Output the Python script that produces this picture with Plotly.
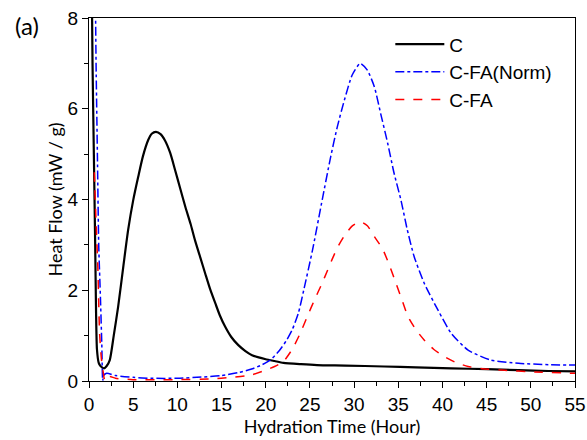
import plotly.graph_objects as go

# C (black)
c_x = [0.3, 0.4, 0.55, 0.7, 0.8, 0.9, 1.1, 1.3, 1.7, 2.0, 2.35, 2.8, 3.3, 3.9, 4.43, 5.0, 5.57, 6.1, 6.7, 7.1, 7.58, 8.1, 8.6, 9.2, 9.74, 10.3, 10.9, 11.5, 12.0, 12.6, 13.15, 13.7, 14.3, 14.8, 15.4, 16.1, 16.9, 17.7, 18.45, 19.2, 20.0, 21.0, 22.0, 24.0, 25.8, 29.0, 33.4, 37.0, 41.0, 45.0, 48.6, 52.0, 55.0]
c_y = [9.0, 7.0, 5.0, 3.0, 1.5, 0.7, 0.4, 0.33, 0.28, 0.33, 0.46, 1.0, 1.64, 2.55, 3.33, 3.98, 4.5, 4.95, 5.31, 5.45, 5.49, 5.44, 5.3, 5.02, 4.65, 4.26, 3.84, 3.46, 3.1, 2.72, 2.37, 2.03, 1.71, 1.45, 1.2, 0.97, 0.79, 0.66, 0.57, 0.52, 0.48, 0.44, 0.40, 0.37, 0.35, 0.34, 0.32, 0.30, 0.28, 0.26, 0.24, 0.22, 0.21]

# C-FA(Norm) (blue)
n_x = [0.7, 0.8, 0.95, 1.1, 1.3, 1.45, 1.55, 1.65, 2.0, 3.0, 5.0, 7.0, 10.0, 13.0, 15.0, 17.0, 18.5, 19.5, 20.5, 21.5, 22.3, 23.0, 23.7, 24.3, 25.3, 26.3, 27.35, 28.1, 28.9, 29.8, 30.7, 31.5, 32.3, 33.0, 33.8, 34.5, 35.3, 36.0, 36.8, 37.95, 39.5, 41.0, 42.9, 45.5, 48.6, 52.0, 55.0]
n_y = [9.0, 7.0, 5.0, 3.0, 1.8, 0.8, 0.0, 0.12, 0.17, 0.12, 0.08, 0.06, 0.06, 0.09, 0.12, 0.19, 0.27, 0.35, 0.46, 0.66, 0.88, 1.13, 1.5, 2.0, 2.89, 3.9, 4.94, 5.6, 6.19, 6.75, 7.0, 6.85, 6.48, 5.9, 5.24, 4.6, 3.99, 3.35, 2.74, 2.15, 1.56, 1.05, 0.68, 0.46, 0.39, 0.36, 0.35]

# C-FA (red)
f_x = [0.6, 0.8, 1.0, 1.2, 1.4, 1.6, 1.8, 2.0, 2.35, 3.0, 5.0, 8.0, 10.0, 14.0, 16.0, 18.3, 20.0, 21.0, 22.0, 23.0, 23.9, 24.7, 25.5, 26.3, 27.0, 27.6, 28.2, 28.9, 29.8, 30.7, 31.5, 32.3, 33.2, 34.0, 34.8, 35.5, 36.1, 37.0, 37.95, 39.0, 40.2, 41.5, 42.9, 44.5, 46.7, 50.4, 55.0]
f_y = [4.6, 3.5, 2.5, 1.05, 0.5, 0.2, 0.0, 0.05, 0.1, 0.06, 0.03, 0.03, 0.03, 0.05, 0.08, 0.13, 0.24, 0.32, 0.43, 0.7, 1.05, 1.42, 1.78, 2.12, 2.44, 2.72, 2.97, 3.2, 3.42, 3.51, 3.42, 3.18, 2.92, 2.55, 2.12, 1.74, 1.42, 1.13, 0.9, 0.7, 0.54, 0.41, 0.32, 0.27, 0.24, 0.2, 0.17]

x_ticks = [0, 5, 10, 15, 20, 25, 30, 35, 40, 45, 50, 55]
y_ticks = [0, 2, 4, 6, 8]

fig = go.Figure()
fig.add_trace(go.Scatter(x=c_x, y=c_y, mode="lines", name="C",
                         line=dict(color="black", width=2.2, shape="spline", smoothing=0.6)))
fig.add_trace(go.Scatter(x=n_x, y=n_y, mode="lines", name="C-FA(Norm)",
                         line=dict(color="#0000ff", width=1.5, dash="dashdot", shape="spline", smoothing=0.6)))
fig.add_trace(go.Scatter(x=f_x, y=f_y, mode="lines", name="C-FA",
                         line=dict(color="#ff0000", width=1.5, dash="dash", shape="spline", smoothing=0.6)))

tickfont = dict(family="Liberation Sans, Arial", size=19, color="black")
titlefont = dict(family="Lato, Open Sans", size=18, color="black")

fig.update_layout(
    width=587, height=440,
    margin=dict(l=89, r=12, t=18, b=59),
    plot_bgcolor="white", paper_bgcolor="white",
    showlegend=True,
    legend=dict(x=0.62, y=0.98, xanchor="left", yanchor="top",
                font=dict(family="Liberation Sans, Arial", size=19, color="black"),
                bgcolor="rgba(0,0,0,0)", itemwidth=49, tracegroupgap=0),
    xaxis=dict(range=[0, 55], tickvals=x_ticks, ticks="outside", ticklen=6, tickwidth=1,
               tickcolor="black", showline=True, linecolor="black", linewidth=1, mirror=True,
               showgrid=False, zeroline=False, tickfont=tickfont, automargin=False,
               minor=dict(dtick=2.5, tick0=0, ticks="outside", ticklen=4, tickcolor="black", showgrid=False),
               title=dict(text="Hydration Time (Hour)", font=titlefont, standoff=4)),
    yaxis=dict(range=[0, 8], tickvals=y_ticks, ticks="outside", ticklen=6, tickwidth=1,
               tickcolor="black", showline=True, linecolor="black", linewidth=1, mirror=True,
               showgrid=False, zeroline=False, tickfont=tickfont, automargin=False,
               minor=dict(dtick=1, tick0=0, ticks="outside", ticklen=4, tickcolor="black", showgrid=False),
               title=dict(text="Heat Flow (mW / g)", font=titlefont, standoff=0)),
)
fig.add_annotation(text="(a)", xref="paper", yref="paper", x=-0.157, y=0.978,
                   xanchor="left", yanchor="middle", showarrow=False,
                   font=dict(family="Lato, Open Sans", size=24, color="black"))

fig.write_html("out.html", config={"displayModeBar": False},
               post_script="document.body.style.margin='0';document.body.style.overflow='hidden';")
